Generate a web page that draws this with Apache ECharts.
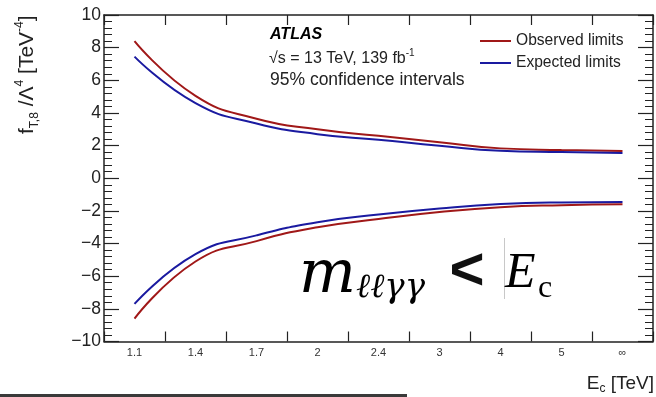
<!DOCTYPE html>
<html>
<head>
<meta charset="utf-8">
<script src="https://cdn.jsdelivr.net/npm/echarts@6/dist/echarts.min.js"></script>
<style>
  html, body { margin: 0; padding: 0; background: #fff; }
  #chart { width: 656px; height: 397px; }
</style>
</head>
<body>
<div id="chart"></div>
<script>
// Cut-off energy bins (TeV)
const cutoffs = ['1.1', '1.4', '1.7', '2', '2.4', '3', '4', '5', '\u221e'];
// 95% CL limits on f_T8 / Lambda^4 (TeV^-4)
const observedUpper = [8.4, 5.05, 3.65, 3.0, 2.6, 2.2, 1.83, 1.73, 1.67];
const observedLower = [-8.6, -5.1, -3.85, -3.0, -2.5, -2.07, -1.77, -1.65, -1.6];
const expectedUpper = [7.45, 4.6, 3.35, 2.7, 2.36, 1.99, 1.69, 1.61, 1.55];
const expectedLower = [-7.7, -4.65, -3.5, -2.69, -2.22, -1.85, -1.58, -1.48, -1.46];
const yTicks = { min: -10, max: 10, step: 2 };

const RED = '#a01818';
const BLUE = '#1a1aa0';
const AXIS = '#222';
const SANS = '"Liberation Sans", Arial, sans-serif';

const chart = echarts.init(document.getElementById('chart'), null, { renderer: 'canvas' });

const minus = v => String(v).replace('-', '\u2212');

function limitSeries(name, data, color) {
  return {
    name, type: 'line', data, smooth: 0.5, symbol: 'none',
    lineStyle: { color, width: 2 }, itemStyle: { color },
    xAxisIndex: 0, yAxisIndex: 0, z: 3
  };
}

const yAxisBase = {
  type: 'value', min: yTicks.min, max: yTicks.max, interval: yTicks.step,
  axisLine: { show: true, onZero: false, lineStyle: { color: AXIS, width: 1.5 } },
  axisTick: { show: true, inside: true, length: 15, lineStyle: { color: AXIS, width: 1.2 } },
  minorTick: { show: true, splitNumber: 5, length: 8, lineStyle: { color: AXIS, width: 1 } },
  splitLine: { show: false }
};

const xAxisBase = {
  type: 'category', data: cutoffs, boundaryGap: true,
  axisLine: { show: true, onZero: false, lineStyle: { color: AXIS, width: 1.5 } },
  axisTick: { show: true, inside: true, length: 10, lineStyle: { color: AXIS, width: 1.2 } },
  splitLine: { show: false }
};

chart.setOption({
  animation: false,
  backgroundColor: '#fff',
  grid: { left: 104, right: 3, top: 15, bottom: 55.5, containLabel: false },
  xAxis: [
    Object.assign({}, xAxisBase, {
      position: 'bottom',
      axisLabel: { show: true, margin: 6, fontSize: 11, color: '#333', fontFamily: SANS }
    }),
    Object.assign({}, xAxisBase, { position: 'top', axisLabel: { show: false } })
  ],
  yAxis: [
    Object.assign({}, yAxisBase, {
      position: 'left',
      axisLabel: { show: true, margin: 3, fontSize: 17.5, color: AXIS, fontFamily: SANS, formatter: minus }
    }),
    Object.assign({}, yAxisBase, { position: 'right', axisLabel: { show: false } })
  ],
  legend: {
    orient: 'vertical', left: 475, top: 26,
    icon: 'rect', itemWidth: 31, itemHeight: 2, itemGap: 2,
    textStyle: { fontSize: 15.6, lineHeight: 20, color: AXIS, fontFamily: SANS },
    data: ['Observed limits', 'Expected limits']
  },
  series: [
    limitSeries('Observed limits', observedUpper, RED),
    limitSeries('Observed limits', observedLower, RED),
    limitSeries('Expected limits', expectedUpper, BLUE),
    limitSeries('Expected limits', expectedLower, BLUE)
  ],
  graphic: [
    // y-axis title, reading upward
    {
      type: 'text', x: 41, y: 134, rotation: Math.PI / 2, z: 10,
      style: {
        text: '{m|f}{s|T,8}{m| /\u039b}{p|4}{m| [TeV}{p|-4}{m|]}',
        align: 'left', verticalAlign: 'bottom',
        rich: {
          m: { fontSize: 21, lineHeight: 27, fontFamily: SANS, fill: AXIS },
          s: { fontSize: 12, lineHeight: 14, fontFamily: SANS, fill: AXIS, verticalAlign: 'bottom' },
          p: { fontSize: 12, lineHeight: 14, fontFamily: SANS, fill: AXIS, verticalAlign: 'top' }
        }
      }
    },
    // x-axis title
    {
      type: 'text', right: 2, top: 374, z: 10,
      style: {
        text: '{m|E}{s|c}{m| [TeV]}',
        rich: {
          m: { fontSize: 19, lineHeight: 22, fontFamily: SANS, fill: AXIS },
          s: { fontSize: 12, lineHeight: 12, fontFamily: SANS, fill: AXIS, verticalAlign: 'bottom' }
        }
      }
    },
    // experiment label block
    {
      type: 'text', left: 270, top: 27, z: 10,
      style: { text: 'ATLAS', font: 'italic bold 16px ' + SANS, fill: '#000' }
    },
    {
      type: 'text', left: 269, top: 48, z: 10,
      style: {
        text: '{m|\u221as = 13 TeV, 139 fb}{p|-1}',
        rich: {
          m: { fontSize: 16, lineHeight: 22, fontFamily: SANS, fill: AXIS },
          p: { fontSize: 10, lineHeight: 12, fontFamily: SANS, fill: AXIS, verticalAlign: 'top' }
        }
      }
    },
    {
      type: 'text', left: 270, top: 71, z: 10,
      style: { text: '95% confidence intervals', font: '17.5px ' + SANS, fill: AXIS }
    },
    // selection condition
    {
      type: 'text', x: 299, y: 276, z: 10,
      style: { text: 'm', font: 'italic 60px "DejaVu Serif", serif', fill: '#000', verticalAlign: 'middle' }
    },
    {
      type: 'text', x: 356, y: 288, z: 10,
      style: { text: '\u2113\u2113\u03b3\u03b3', font: 'italic 34px "DejaVu Serif", serif', fill: '#000', verticalAlign: 'middle' }
    },
    {
      type: 'text', x: 467, y: 272, z: 10,
      style: { text: '<', font: 'bold 60px ' + SANS, fill: '#111', align: 'center', verticalAlign: 'middle' }
    },
    {
      type: 'line', z: 9,
      shape: { x1: 504.5, y1: 238, x2: 504.5, y2: 299 },
      style: { stroke: '#c8c8c8', lineWidth: 1 }
    },
    {
      type: 'text', x: 505, y: 274, z: 10,
      style: { text: 'E', font: 'italic 50px "Liberation Serif", serif', fill: '#000', verticalAlign: 'middle' }
    },
    {
      type: 'text', x: 538, y: 289, z: 10,
      style: { text: 'c', font: '32px "Liberation Serif", serif', fill: '#000', verticalAlign: 'middle' }
    },
    // rule under the figure
    {
      type: 'rect', z: 10,
      shape: { x: 0, y: 394, width: 407, height: 3 },
      style: { fill: '#3a3a3a' }
    }
  ]
});
</script>
</body>
</html>
